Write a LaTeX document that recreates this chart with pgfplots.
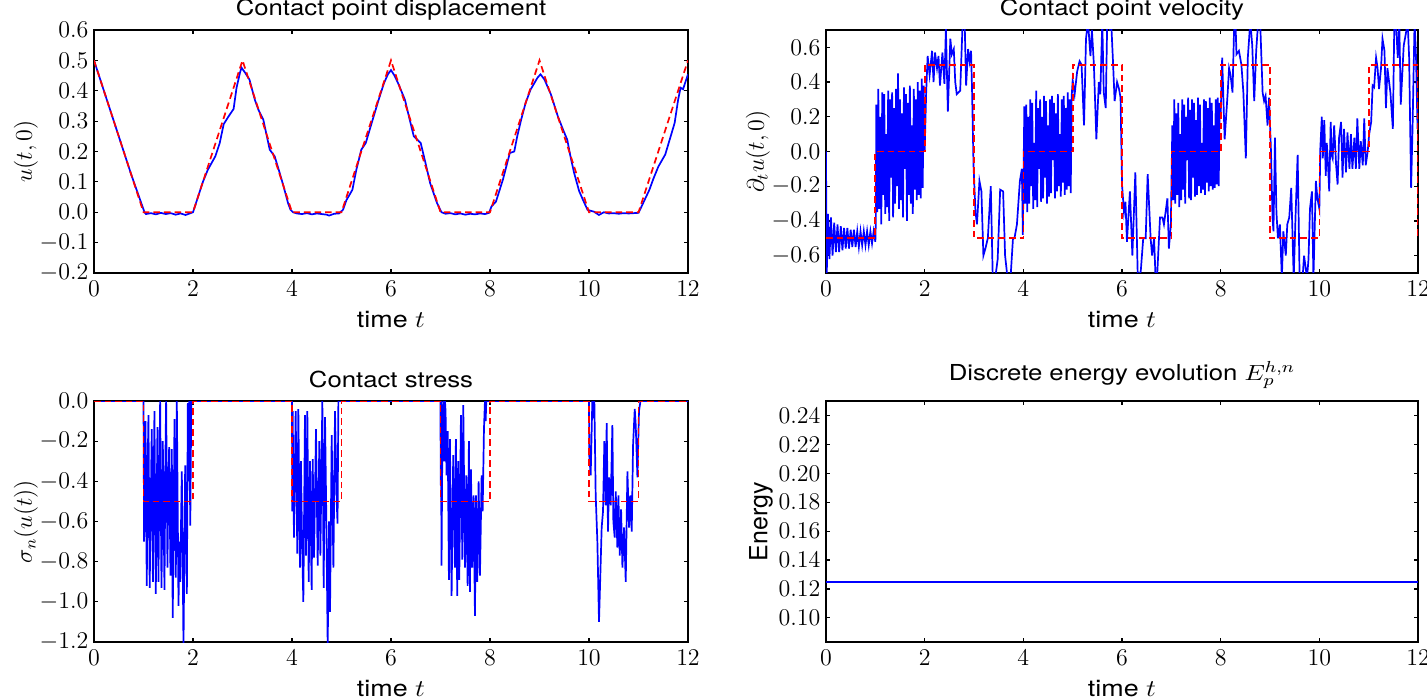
\documentclass[border=0pt]{standalone}
\usepackage{fontspec}
\setsansfont{TeX Gyre Heros}
\usepackage{graphicx}
\usepackage{pgfplots}
\pgfplotsset{compat=1.18}
\newcommand{\sx}[1]{\scalebox{1.17}[1]{#1}}
\definecolor{mplblue}{RGB}{0,0,255}
\definecolor{mplred}{RGB}{255,0,0}
\pgfplotsset{
  base/.style={
    scale only axis,
    xmin=0, xmax=12, xtick={0,2,...,12},
    axis line style={line width=0.9pt},
    tick style={line width=0.6pt, black},
    major tick length=2.2pt,
    minor tick num=0,
    scaled ticks=false,
    clip=true,
    tick label style={font=\fontsize{11.5}{13}\selectfont},
    xticklabel shift=0.6pt,
    yticklabel shift=-0.7pt,
    title style={font=\fontsize{11}{13}\selectfont\sffamily, at={(0.5,1)}, anchor=base, yshift=1pt},
    xlabel style={font=\fontsize{11.5}{14}\selectfont\sffamily, yshift=-0.5pt},
    ylabel style={font=\fontsize{12}{15}\selectfont},
    ylabel shift=-6pt,
    xlabel={\sx{time $t$}},
  },
  num/.style={line width=0.85pt, color=mplblue},
  ex/.style={line width=0.85pt, color=mplred, dash pattern=on 3.3pt off 2pt},
}
\begin{document}
\begin{tikzpicture}
\path[use as bounding box] (0,0) rectangle (713.5pt,-349.5pt);

% ---------------- Top left: displacement
\begin{axis}[base, at={(47pt,-15pt)}, anchor=north west,
  width=297pt, height=121.5pt,
  ymin=-0.2, ymax=0.6, ytick={-0.2,-0.1,...,0.61},
  yticklabel style={/pgf/number format/.cd, fixed, fixed zerofill, precision=1},
  title={\sx{Contact point displacement}},
  ylabel={$u(t,0)$}]
\addplot[num] coordinates {
(0,0.5)(0.25,0.375)(0.5,0.25)(0.75,0.125)(1.02,0.0)(1.05,-0.006)(1.15,-0.003)(1.25,-0.007)(1.35,-0.002)(1.45,-0.006)(1.55,-0.003)(1.65,-0.008)(1.75,-0.004)(1.85,-0.009)(1.95,-0.003)(2.0,0.0)
(2.08,0.04)(2.2,0.10)(2.3,0.14)(2.45,0.184)(2.54,0.228)(2.62,0.29)(2.72,0.316)(2.82,0.34)(2.88,0.41)(2.95,0.46)(2.98,0.476)(3.05,0.46)(3.14,0.437)(3.25,0.37)(3.32,0.338)(3.42,0.305)(3.55,0.206)(3.65,0.184)(3.75,0.13)(3.83,0.085)(3.92,0.03)(3.97,0.008)(4.02,0.0)
(4.1,-0.004)(4.2,-0.006)(4.3,-0.003)(4.4,-0.007)(4.5,-0.004)(4.6,-0.006)(4.7,-0.008)(4.75,-0.011)(4.85,-0.005)(4.95,-0.004)
(5.03,0.008)(5.1,0.04)(5.22,0.074)(5.3,0.14)(5.4,0.206)(5.49,0.228)(5.63,0.305)(5.75,0.37)(5.86,0.426)(5.94,0.455)(6.0,0.468)(6.07,0.45)(6.14,0.426)(6.28,0.371)(6.37,0.31)(6.46,0.25)(6.6,0.228)(6.7,0.16)(6.79,0.096)(6.93,0.03)(7.02,0.0)
(7.1,-0.005)(7.2,-0.003)(7.3,-0.007)(7.4,-0.004)(7.5,-0.008)(7.6,-0.005)(7.7,-0.007)(7.8,-0.004)(7.9,-0.006)(7.98,-0.002)
(8.03,0.019)(8.12,0.035)(8.26,0.107)(8.4,0.195)(8.49,0.2)(8.55,0.25)(8.63,0.305)(8.72,0.36)(8.82,0.404)(8.96,0.443)(9.02,0.454)(9.1,0.437)(9.23,0.388)(9.37,0.316)(9.48,0.27)(9.56,0.239)(9.63,0.18)(9.7,0.129)(9.8,0.07)(9.88,0.04)(9.97,0.008)
(10.05,0.004)(10.1,0.002)(10.2,-0.009)(10.3,0.0)(10.4,-0.004)(10.5,-0.003)(10.6,-0.005)(10.7,-0.003)(10.8,-0.004)(10.9,-0.003)(11.0,-0.002)
(11.03,0.008)(11.22,0.074)(11.3,0.11)(11.4,0.15)(11.54,0.19)(11.65,0.25)(11.73,0.294)(11.8,0.37)(11.85,0.41)(11.9,0.405)(11.95,0.43)(12.0,0.454)
};
\addplot[ex] coordinates {
(0,0.5)(1,0)(2,0)(3,0.5)(4,0)(5,0)(6,0.5)(7,0)(8,0)(9,0.5)(10,0)(11,0)(12,0.5)
};
\end{axis}

% ---------------- Top right: velocity
\begin{axis}[base, at={(413pt,-15pt)}, anchor=north west,
  width=296pt, height=121.5pt,
  ymin=-0.7, ymax=0.7, ytick={-0.6,-0.4,...,0.61},
  yticklabel style={/pgf/number format/.cd, fixed, fixed zerofill, precision=1},
  title={\sx{Contact point velocity}},
  ylabel={$\partial_t u(t,0)$}]
\addplot[num] coordinates {
(0,0.0)(0.012,-0.75)(0.040,-0.36)(0.070,-0.62)(0.100,-0.38)(0.133,-0.60)(0.166,-0.41)(0.200,-0.58)(0.233,-0.42)(0.266,-0.58)(0.300,-0.43)(0.333,-0.57)(0.366,-0.44)(0.400,-0.56)(0.433,-0.44)(0.466,-0.56)(0.500,-0.45)(0.533,-0.55)(0.566,-0.45)(0.600,-0.55)(0.633,-0.46)(0.666,-0.55)(0.700,-0.46)(0.733,-0.54)(0.766,-0.46)(0.800,-0.54)(0.833,-0.46)(0.866,-0.54)(0.900,-0.46)(0.933,-0.53)(0.966,-0.46)(1.000,-0.52)(1.01,-0.40)
(1.02,0.27)(1.04,-0.35)(1.06,0.36)(1.08,-0.33)(1.10,0.20)(1.12,-0.42)(1.14,0.34)(1.16,-0.25)(1.18,0.33)(1.20,-0.36)(1.22,0.10)(1.24,-0.32)(1.26,0.35)(1.28,-0.40)(1.30,0.30)(1.32,-0.15)(1.34,0.34)(1.36,-0.38)(1.38,0.25)(1.40,-0.30)(1.42,0.36)(1.44,-0.20)(1.46,0.45)(1.48,-0.33)(1.50,0.30)(1.52,-0.28)(1.54,0.22)(1.56,-0.38)(1.58,0.37)(1.60,-0.10)(1.62,0.33)(1.64,-0.40)(1.66,0.28)(1.68,-0.25)(1.70,0.38)(1.72,-0.30)(1.74,0.15)(1.76,-0.36)(1.78,0.36)(1.80,-0.22)(1.82,0.30)(1.84,-0.28)(1.86,0.40)(1.88,-0.25)(1.90,0.35)(1.92,-0.27)(1.94,0.42)(1.96,-0.21)(1.98,0.38)(2.00,0.00)
(2.03,0.34)(2.06,0.55)(2.10,0.44)(2.15,0.58)(2.18,0.40)(2.21,0.57)(2.25,0.48)(2.28,0.55)(2.31,0.38)(2.36,0.57)(2.40,0.39)(2.43,0.71)(2.47,0.23)(2.52,0.65)(2.55,0.56)(2.59,0.59)(2.62,0.40)(2.65,0.33)(2.72,0.35)(2.77,0.75)(2.81,0.75)(2.84,0.38)(2.88,0.59)(2.91,0.52)(2.94,0.58)(2.96,0.36)(2.99,-0.08)
(3.03,-0.35)(3.06,-0.42)(3.11,-0.17)(3.15,-0.23)(3.19,-0.60)(3.23,-0.56)(3.28,-0.50)(3.34,-0.20)(3.38,-0.73)(3.43,-0.73)(3.48,-0.62)(3.53,-0.22)(3.59,-0.23)(3.63,-0.60)(3.68,-0.73)(3.74,-0.73)(3.79,-0.50)(3.82,-0.50)(3.87,-0.42)(3.93,-0.17)(3.97,-0.10)(3.99,-0.48)
(4.02,0.26)(4.04,-0.30)(4.06,0.27)(4.08,-0.35)(4.10,0.20)(4.12,-0.30)(4.14,0.30)(4.16,-0.20)(4.18,0.28)(4.20,-0.33)(4.22,0.05)(4.24,-0.28)(4.26,0.35)(4.28,-0.32)(4.30,0.25)(4.32,-0.10)(4.34,0.30)(4.36,-0.29)(4.38,0.20)(4.40,-0.27)(4.42,0.32)(4.44,-0.15)(4.46,0.29)(4.48,-0.30)(4.50,0.15)(4.52,-0.26)(4.54,0.30)(4.56,-0.24)(4.58,0.32)(4.60,-0.05)(4.62,0.28)(4.64,-0.27)(4.66,0.22)(4.68,-0.23)(4.70,0.33)(4.72,-0.20)(4.74,0.10)(4.76,-0.26)(4.78,0.30)(4.80,-0.18)(4.82,0.32)(4.84,-0.25)(4.86,0.25)(4.88,-0.22)(4.90,0.34)(4.92,-0.20)(4.94,0.30)(4.96,-0.24)(4.98,0.32)
(5.00,0.41)(5.04,0.33)(5.09,0.46)(5.14,0.52)(5.18,0.50)(5.23,0.15)(5.27,0.65)(5.31,0.75)(5.36,0.55)(5.39,0.70)(5.43,0.50)(5.48,0.07)(5.53,0.40)(5.56,0.33)(5.60,0.75)(5.63,0.34)(5.67,0.25)(5.70,0.75)(5.75,0.71)(5.78,0.75)(5.82,0.50)(5.85,0.29)(5.90,0.40)(5.94,0.36)(5.97,0.31)
(6.00,-0.19)(6.04,-0.35)(6.07,-0.29)(6.10,-0.52)(6.16,-0.23)(6.21,-0.60)(6.27,-0.12)(6.32,-0.73)(6.38,-0.69)(6.43,-0.50)(6.48,-0.50)(6.52,-0.13)(6.58,-0.50)(6.61,-0.60)(6.65,-0.50)(6.68,-0.73)(6.71,-0.73)(6.77,-0.38)(6.82,-0.38)(6.85,-0.42)(6.92,-0.27)(6.95,-0.56)(6.99,-0.42)
(7.02,0.15)(7.04,-0.28)(7.06,0.30)(7.08,-0.30)(7.10,0.22)(7.12,-0.25)(7.14,0.28)(7.16,-0.32)(7.18,0.10)(7.20,-0.28)(7.22,0.30)(7.24,-0.22)(7.26,0.27)(7.28,-0.30)(7.30,0.20)(7.32,-0.05)(7.34,0.31)(7.36,-0.27)(7.38,0.24)(7.40,-0.28)(7.42,0.30)(7.44,-0.15)(7.46,0.28)(7.48,-0.26)(7.50,0.18)(7.52,-0.25)(7.54,0.31)(7.56,-0.20)(7.58,0.27)(7.60,-0.24)(7.62,0.05)(7.64,-0.22)(7.66,0.30)(7.68,-0.25)(7.70,0.29)(7.72,-0.18)(7.74,0.25)(7.76,-0.23)(7.78,0.31)(7.80,-0.20)(7.82,0.28)(7.84,-0.22)(7.86,0.15)(7.88,-0.21)(7.90,0.30)(7.92,-0.19)(7.94,0.31)(7.96,-0.20)(7.98,0.28)(8.00,0.20)
(8.03,0.54)(8.08,0.07)(8.14,0.33)(8.17,0.48)(8.20,0.44)(8.24,0.34)(8.27,0.69)(8.30,0.75)(8.32,0.56)(8.37,0.58)(8.42,0.50)(8.46,0.34)(8.51,-0.04)(8.55,0.54)(8.60,0.75)(8.64,0.61)(8.68,0.29)(8.72,0.58)(8.76,0.75)(8.80,0.75)(8.85,0.34)(8.88,0.29)(8.91,0.32)(8.95,0.15)(8.98,0.31)(9.02,0.0)
(9.05,-0.38)(9.07,-0.46)(9.10,0.08)(9.13,-0.35)(9.16,-0.50)(9.20,-0.42)(9.24,-0.73)(9.27,-0.46)(9.32,-0.60)(9.35,-0.42)(9.39,-0.38)(9.43,-0.21)(9.48,-0.73)(9.52,-0.35)(9.56,-0.02)(9.60,-0.73)(9.66,-0.73)(9.69,-0.60)(9.75,-0.73)(9.78,-0.62)(9.81,-0.33)(9.85,-0.23)(9.88,-0.73)(9.93,-0.17)(9.96,-0.27)(10.00,-0.33)
(10.02,0.02)(10.05,0.20)(10.07,-0.04)(10.10,0.18)(10.13,-0.14)(10.15,0.05)(10.17,-0.04)(10.20,-0.23)(10.23,0.17)(10.25,-0.02)(10.27,-0.04)(10.30,0.15)(10.34,-0.08)(10.37,-0.19)(10.40,0.08)(10.44,0.17)(10.47,-0.15)(10.50,0.13)(10.54,-0.12)(10.57,0.11)(10.61,-0.10)(10.64,0.10)(10.67,-0.10)(10.71,0.08)(10.74,-0.10)(10.77,0.19)(10.81,-0.10)(10.84,0.06)(10.88,-0.08)(10.91,0.19)(10.94,-0.08)(10.98,0.0)(11.01,0.10)
(11.05,0.17)(11.08,0.38)(11.11,0.37)(11.15,0.54)(11.18,0.48)(11.21,0.36)(11.25,0.48)(11.28,0.65)(11.32,0.58)(11.35,0.25)(11.38,0.48)(11.44,0.34)(11.49,0.13)(11.52,0.75)(11.55,0.75)(11.59,0.54)(11.62,0.75)(11.65,0.27)(11.71,0.61)(11.76,0.69)(11.79,0.75)(11.82,0.54)(11.86,-0.21)(11.89,0.15)(11.93,0.75)(11.96,0.54)(11.99,0.13)(12.0,0.25)
};
\addplot[ex] coordinates {
(0,-0.5)(1,-0.5)(1,0)(2,0)(2,0.5)(3,0.5)(3,-0.5)(4,-0.5)(4,0)(5,0)(5,0.5)(6,0.5)(6,-0.5)(7,-0.5)(7,0)(8,0)(8,0.5)(9,0.5)(9,-0.5)(10,-0.5)(10,0)(11,0)(11,0.5)(12,0.5)(12,-0.5)
};
\end{axis}

% ---------------- Bottom left: stress
\begin{axis}[base, at={(47pt,-200.5pt)}, anchor=north west,
  width=297pt, height=120.5pt,
  ymin=-1.2, ymax=0.0, ytick={-1.2,-1.0,...,0.01},
  yticklabel style={/pgf/number format/.cd, fixed, fixed zerofill, precision=1},
  title={\sx{Contact stress}},
  ylabel={$\sigma_n(u(t))$}]
\addplot[num] coordinates {
(0,0)(1.0,0)
(1.012,-0.70)(1.040,-0.10)(1.066,-0.92)(1.086,-0.30)(1.100,-0.07)(1.125,-0.93)(1.147,-0.50)(1.167,-0.14)(1.190,-0.90)(1.205,-0.45)(1.221,-0.05)(1.248,-0.96)(1.265,-0.55)(1.282,-0.13)(1.302,-0.90)(1.320,-0.40)(1.336,0.0)(1.363,-0.93)(1.378,-0.60)(1.390,-0.20)(1.424,-0.94)(1.440,-0.35)(1.457,0.0)(1.484,-0.83)(1.500,-0.45)(1.518,-0.23)(1.545,-0.87)(1.560,-0.50)(1.572,-0.24)(1.590,-1.08)(1.610,-0.60)(1.626,-0.09)(1.653,-0.88)(1.673,0.0)(1.707,-1.02)(1.725,-0.70)(1.741,-0.90)(1.774,-0.35)(1.808,-1.22)(1.842,-0.32)(1.876,-0.96)(1.896,-0.01)(1.910,-0.40)(1.923,0.0)(1.945,-0.62)(1.965,0.0)
(4.0,0)(4.005,-0.55)(4.013,-0.05)(4.040,-0.68)(4.074,-0.05)(4.107,-0.76)(4.128,-0.04)(4.161,-0.83)(4.181,-0.30)(4.202,-0.68)(4.229,-1.00)(4.262,-0.07)(4.283,-0.77)(4.310,-0.05)(4.337,-0.90)(4.364,-0.30)(4.397,-0.94)(4.418,-0.29)(4.445,-0.78)(4.485,-0.14)(4.519,-0.82)(4.552,-0.20)(4.573,-0.77)(4.613,0.0)(4.640,-0.93)(4.667,-0.08)(4.694,-0.60)(4.721,-1.22)(4.748,-0.60)(4.768,-1.05)(4.802,-0.17)(4.836,-0.83)(4.869,-0.05)(4.903,-0.50)(4.920,-0.61)(4.937,0.0)
(7.0,0)(7.004,-0.42)(7.008,0.0)(7.021,-0.82)(7.040,-0.10)(7.055,0.0)(7.075,-0.30)(7.090,0.0)(7.102,-0.05)(7.122,-0.37)(7.145,-0.15)(7.170,-0.89)(7.190,-0.19)(7.224,-0.97)(7.257,-0.27)(7.291,-0.83)(7.311,-0.19)(7.338,-0.97)(7.359,-0.30)(7.379,-0.89)(7.413,-0.07)(7.440,-0.79)(7.460,-0.02)(7.494,-0.83)(7.521,-0.37)(7.548,-0.92)(7.574,-0.20)(7.595,-0.95)(7.615,-0.34)(7.642,-0.83)(7.669,-0.47)(7.696,-1.07)(7.716,-0.47)(7.743,-0.90)(7.770,-0.40)(7.797,-0.87)(7.831,-0.37)(7.851,-0.55)(7.878,-0.14)(7.898,0.0)(7.912,-0.10)(7.925,0.0)
(10.0,0)(10.005,-0.27)(10.034,-0.37)(10.067,0.0)(10.088,-0.05)(10.108,0.0)(10.135,-0.47)(10.169,-0.70)(10.202,-1.10)(10.256,-0.63)(10.283,-0.55)(10.310,-0.20)(10.337,-0.52)(10.357,-0.11)(10.384,-0.65)(10.405,-0.38)(10.438,-0.52)(10.472,-0.12)(10.492,-0.60)(10.519,-0.68)(10.540,-0.45)(10.573,-0.73)(10.594,-0.47)(10.621,-0.77)(10.648,-0.54)(10.675,-0.83)(10.708,-0.63)(10.742,-0.90)(10.776,-0.35)(10.809,-0.63)(10.836,-0.47)(10.863,-0.65)(10.890,-0.22)(10.924,-0.04)(10.944,-0.12)(10.978,-0.38)(11.01,-0.05)(11.04,0.0)
(12,0)
};
\addplot[ex] coordinates {
(0,0)(1,0)(1,-0.5)(2,-0.5)(2,0)(4,0)(4,-0.5)(5,-0.5)(5,0)(7,0)(7,-0.5)(8,-0.5)(8,0)(10,0)(10,-0.5)(11,-0.5)(11,0)(12,0)
};
\end{axis}

% ---------------- Bottom right: energy
\begin{axis}[base, at={(413pt,-200.5pt)}, anchor=north west,
  width=296pt, height=120.5pt,
  ymin=0.08333, ymax=0.25, ytick={0.10,0.12,...,0.241},
  yticklabel style={/pgf/number format/.cd, fixed, fixed zerofill, precision=2},
  title style={anchor=south, yshift=-4.5pt},
  title={\sx{Discrete energy evolution $E_p^{h,n}$}},
  ylabel style={font=\fontsize{12.5}{15}\selectfont\sffamily},
  ylabel shift=-4pt,
  ylabel={Energy}]
\addplot[ex] coordinates {(0,0.125)(12,0.125)};
\addplot[num] coordinates {(0,0.125)(12,0.125)};
\end{axis}
\end{tikzpicture}
\end{document}
